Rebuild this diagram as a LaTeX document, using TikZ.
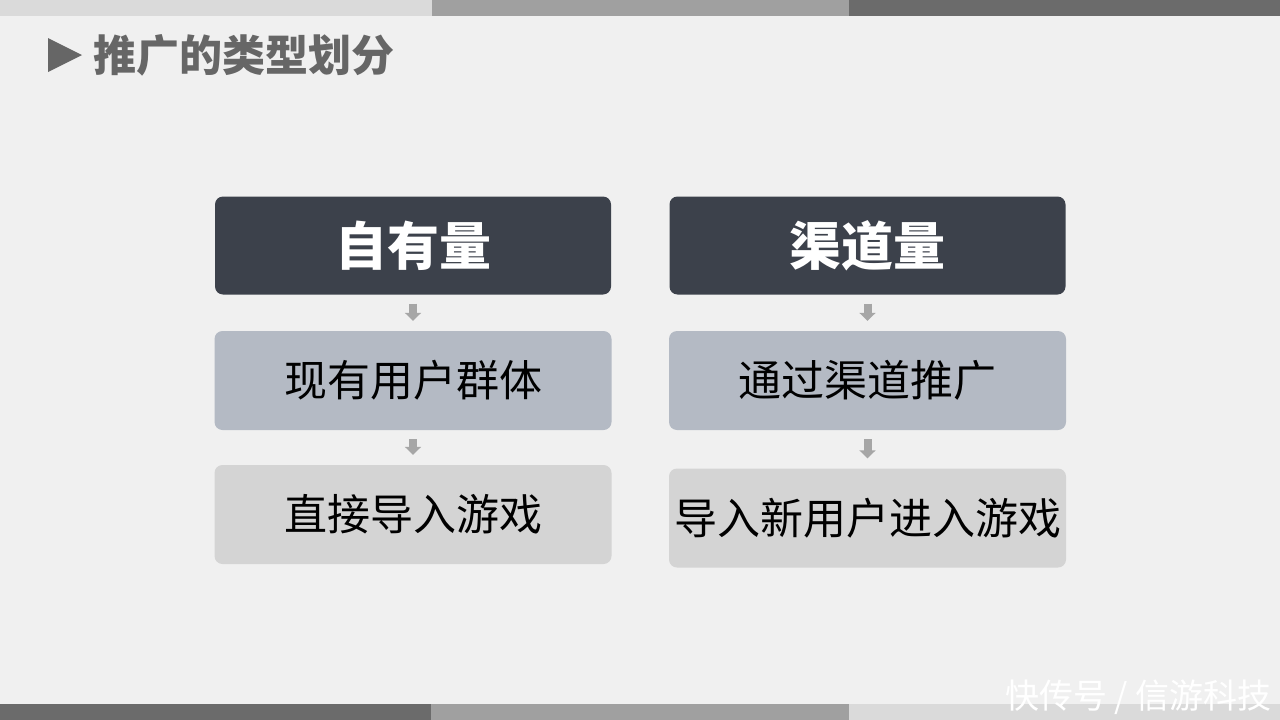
\documentclass[tikz,border=0pt]{standalone}
\usepackage{fontspec}
\usepackage{xcolor}
\usetikzlibrary{arrows.meta}
\newfontfamily\cjk{Noto Sans CJK SC}
\definecolor{paperwhite}{RGB}{240,240,240}
\definecolor{barlight}{RGB}{218,218,218}
\definecolor{barmid}{RGB}{160,160,160}
\definecolor{bardark}{RGB}{107,107,107}
\definecolor{titlegray}{RGB}{102,102,102}
\definecolor{headslate}{RGB}{60,65,75}
\definecolor{stepblue}{RGB}{180,186,196}
\definecolor{stepgray}{RGB}{212,212,212}
\definecolor{arrowgray}{RGB}{166,166,166}

\begin{document}
\begin{tikzpicture}[x=1pt, y=-1pt,
    headbox/.style={fill=headslate, rounded corners=8pt, minimum width=396pt,
        minimum height=98pt, text=white, font=\cjk\bfseries\fontsize{52}{58}\selectfont},
    midbox/.style={fill=stepblue, rounded corners=8pt, minimum width=397pt,
        minimum height=99pt, text=black, font=\cjk\fontsize{43}{48}\selectfont},
    lowbox/.style={fill=stepgray, rounded corners=8pt, minimum width=397pt,
        minimum height=99pt, text=black, font=\cjk\fontsize{43}{48}\selectfont},
    flow/.style={draw=arrowgray, line width=8pt, -{Triangle[width=16pt,length=8pt]},
        shorten <=9pt, shorten >=10pt}]
    % Background
    \fill[paperwhite] (0,0) rectangle (1280,720);
    \useasboundingbox (0,0) rectangle (1280,720);

    % Top and bottom bars
    \fill[barlight] (0,0) rectangle (432,16);
    \fill[barmid] (432,0) rectangle (849,16);
    \fill[bardark] (849,0) rectangle (1280,16);
    \fill[bardark] (0,704) rectangle (431,720);
    \fill[barmid] (431,704) rectangle (849,720);
    \fill[barlight] (849,704) rectangle (1280,720);

    % Title
    \fill[titlegray] (48,38) -- (82,55) -- (48,72) -- cycle;
    \node[titlegray, anchor=west, inner sep=0pt, font=\cjk\bfseries\fontsize{43}{48}\selectfont]
        (title) at (93,55) {推广的类型划分};

    % Left column
    \node[headbox] (own) at (413,245.5) {自有量};
    \node[midbox] (ownusers) at (413,380.5) {现有用户群体};
    \node[lowbox] (owngame) at (413,514.5) {直接导入游戏};

    % Right column
    \node[headbox] (chan) at (867.5,245.5) {渠道量};
    \node[midbox] (chanpush) at (867.5,380.5) {通过渠道推广};
    \node[lowbox] (changame) at (867.5,518) {导入新用户进入游戏};

    % Arrows
    \draw[flow] (own) -- (ownusers);
    \draw[flow] (ownusers) -- (owngame);
    \draw[flow] (chan) -- (chanpush);
    \draw[flow] (chanpush) -- (changame);

    % Watermark
    \node[white, anchor=east, inner sep=0pt, font=\cjk\fontsize{34}{40}\selectfont]
        (mark) at (1272,697) {快传号 / 信游科技};
\end{tikzpicture}
\end{document}
